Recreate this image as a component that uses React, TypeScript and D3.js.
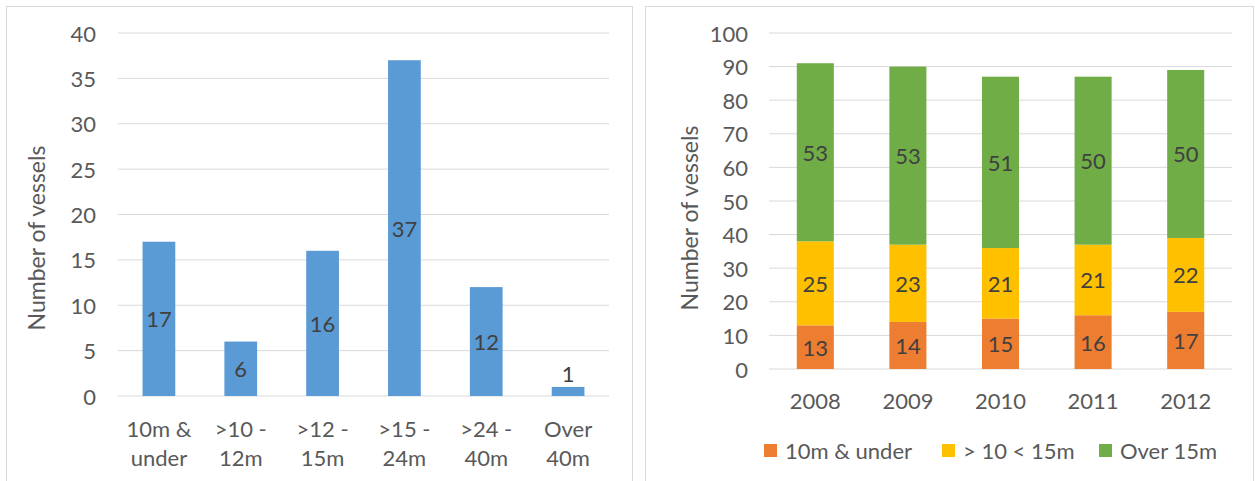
import React from 'react'
import * as d3 from 'd3'

// left chart: vessels by length
const lengthCats = ['10m & under', '>10 - 12m', '>12 - 15m', '>15 - 24m', '>24 - 40m', 'Over 40m']
const lengthLines = [['10m &', 'under'], ['>10 -', '12m'], ['>12 -', '15m'], ['>15 -', '24m'], ['>24 -', '40m'], ['Over', '40m']]
const lengthVals = [17, 6, 16, 37, 12, 1]
const leftTicks = [0, 5, 10, 15, 20, 25, 30, 35, 40]

// right chart: vessels by year, stacked
const years = ['2008', '2009', '2010', '2011', '2012']
const under10 = [13, 14, 15, 16, 17]
const mid10to15 = [25, 23, 21, 21, 22]
const over15 = [53, 53, 51, 50, 50]
const seriesNames = ['10m & under', '> 10 < 15m', 'Over 15m']
const rightTicks = [0, 10, 20, 30, 40, 50, 60, 70, 80, 90, 100]

const FONT = 'Lato, "Open Sans", sans-serif'
const FS = 22
const TXT = '#595959'
const LBL = '#404040'
const GRID = '#d9d9d9'
const colors = ['#ED7D31', '#FFC000', '#70AD47']

const App = () => {
  // left scales
  const xL = d3.scaleBand().domain(lengthCats).range([118, 609]).paddingInner(0.6).paddingOuter(0.3)
  const yL = d3.scaleLinear().domain([0, 40]).range([396, 33])

  // right scales
  const xR = d3.scaleBand().domain(years).range([769, 1232]).paddingInner(0.6).paddingOuter(0.3)
  const yR = d3.scaleLinear().domain([0, 100]).range([369, 33])

  const table = years.map((y, i) => ({ year: y, a: under10[i], b: mid10to15[i], c: over15[i] }))
  const stacked = d3.stack<any>().keys(['a', 'b', 'c'])(table)

  const legendX = [764, 942, 1099]

  return (
    <svg width={1255} height={481} style={{ position: 'absolute', left: 0, top: 0, background: '#fff' }} fontFamily={FONT}>
      {/* panel frames */}
      <rect x={6.5} y={6.5} width={626} height={480} fill="none" stroke={GRID} />
      <rect x={645.5} y={6.5} width={608} height={480} fill="none" stroke={GRID} />

      {/* ---- left chart ---- */}
      {leftTicks.map(t => (
        <g key={'lt' + t}>
          <line x1={118} x2={609} y1={yL(t)} y2={yL(t)} stroke={GRID} strokeWidth={1} />
          <text x={96} y={yL(t)} textAnchor="end" dominantBaseline="central" fontSize={FS} fill={TXT}>{t}</text>
        </g>
      ))}
      {lengthCats.map((c, i) => {
        const x = xL(c)!
        const w = xL.bandwidth()
        const v = lengthVals[i]
        const inside = v >= 4
        return (
          <g key={c}>
            <rect x={x} y={yL(v)} width={w} height={yL(0) - yL(v)} fill="#5B9BD5" />
            <text x={x + w / 2} y={inside ? (yL(v) + yL(0)) / 2 : yL(v) - 13} textAnchor="middle"
              dominantBaseline="central" fontSize={FS} fill={LBL}>{v}</text>
            {lengthLines[i].map((l, j) => (
              <text key={j} x={x + w / 2} y={428 + j * 29} textAnchor="middle" dominantBaseline="central"
                fontSize={FS} fill={TXT}>{l}</text>
            ))}
          </g>
        )
      })}
      <text transform="translate(36,238) rotate(-90)" textAnchor="middle" dominantBaseline="central"
        fontSize={23} fill={TXT}>Number of vessels</text>

      {/* ---- right chart ---- */}
      {rightTicks.map(t => (
        <g key={'rt' + t}>
          <line x1={769} x2={1232} y1={yR(t)} y2={yR(t)} stroke={GRID} strokeWidth={1} />
          <text x={748} y={yR(t)} textAnchor="end" dominantBaseline="central" fontSize={FS} fill={TXT}>{t}</text>
        </g>
      ))}
      {stacked.map((s, si) => (
        <g key={s.key}>
          {s.map((d, i) => {
            const x = xR(years[i])!
            const w = xR.bandwidth()
            return (
              <g key={i}>
                <rect x={x} y={yR(d[1])} width={w} height={yR(d[0]) - yR(d[1])} fill={colors[si]} />
                <text x={x + w / 2} y={(yR(d[0]) + yR(d[1])) / 2} textAnchor="middle" dominantBaseline="central"
                  fontSize={FS} fill={LBL}>{d[1] - d[0]}</text>
              </g>
            )
          })}
        </g>
      ))}
      {years.map(y => (
        <text key={y} x={xR(y)! + xR.bandwidth() / 2} y={400} textAnchor="middle" dominantBaseline="central"
          fontSize={FS} fill={TXT}>{y}</text>
      ))}
      <text transform="translate(689,218) rotate(-90)" textAnchor="middle" dominantBaseline="central"
        fontSize={23} fill={TXT}>Number of vessels</text>

      {/* legend */}
      {seriesNames.map((n, i) => (
        <g key={n}>
          <rect x={legendX[i]} y={444} width={13} height={13} fill={colors[i]} />
          <text x={legendX[i] + 21} y={450} dominantBaseline="central" fontSize={FS} fill={TXT}>{n}</text>
        </g>
      ))}
    </svg>
  )
}

export default App
